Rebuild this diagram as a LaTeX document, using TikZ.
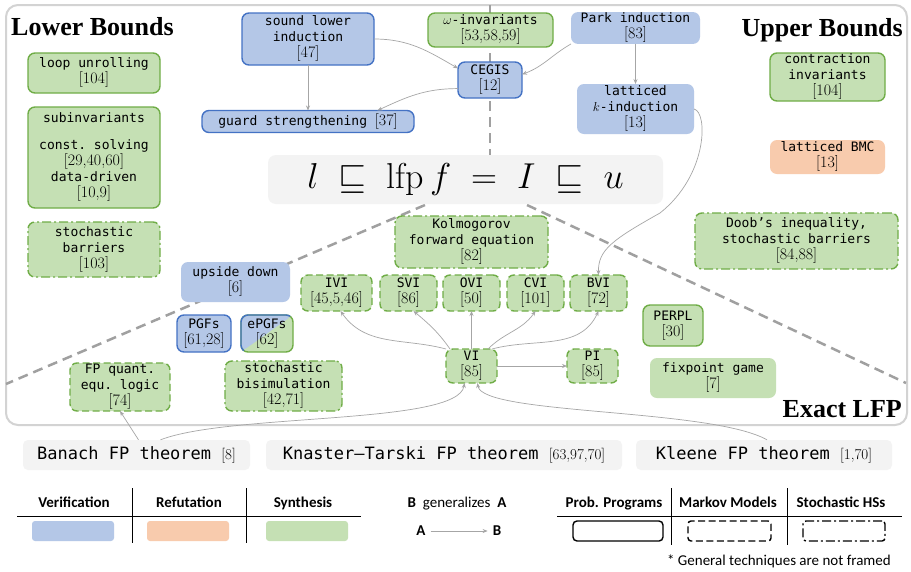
\documentclass[tikz,border=0pt]{standalone}
\usepackage{fix-cm}
\usepackage{fontspec}
\setmonofont{DejaVu Sans Mono}
\newfontfamily\titlefont{Liberation Serif}
\newfontfamily\legendfont{Carlito}
\usetikzlibrary{arrows.meta}

\definecolor{verfill}{HTML}{B4C7E7}
\definecolor{verline}{HTML}{4472C4}
\definecolor{synfill}{HTML}{C5E0B4}
\definecolor{synline}{HTML}{70AD47}
\definecolor{reffill}{HTML}{F8CBAD}
\definecolor{thmfill}{HTML}{F3F3F3}
\definecolor{linkgray}{HTML}{A6A6A6}
\definecolor{sepgray}{HTML}{A0A0A0}
\definecolor{framegray}{HTML}{D3D3D3}

\newcommand{\refs}[1]{{\rmfamily\fontsize{16}{16}\selectfont[#1]}}
\newcommand{\thmrefs}[1]{{\rmfamily\fontsize{15}{16}\selectfont[#1]}}

\begin{document}
\begin{tikzpicture}[
		x=1pt, y=1pt,
		box/.style={rounded corners=7pt, align=center, outer sep=0pt, inner sep=1pt, font=\ttfamily\fontsize{13}{16}\selectfont},
		boxsize/.style 2 args={minimum width=#1, minimum height=#2},
		verbox/.style={box, fill=verfill, draw=verline},
		synbox/.style={box, fill=synfill, draw=synline},
		refbox/.style={box, fill=reffill},
		prog/.style={line width=1.4pt},
		markov/.style={line width=1.4pt, dash pattern=on 7pt off 3.5pt},
		hybrid/.style={line width=1.4pt, dash pattern=on 9pt off 3pt on 2pt off 3pt},
		general/.style={draw=none},
		thm/.style={fill=thmfill, rounded corners=5pt, inner sep=0pt, font=\ttfamily\fontsize{17}{20}\selectfont},
		link/.style={draw=linkgray, line width=0.7pt, -{Stealth[length=5pt, width=4pt]}},
		region/.style={draw=sepgray, line width=2.5pt, dash pattern=on 10pt off 6pt},
		heading/.style={font=\titlefont\bfseries\fontsize{26}{30}\selectfont, inner sep=0pt},
		legend/.style={font=\legendfont\fontsize{15}{17}\selectfont, inner sep=0pt},
		swatch/.style={rounded corners=3pt, minimum width=82pt, minimum height=20pt, inner sep=0pt}
		]
		
		\fill[white] (0,0) rectangle (911,-571);
		\useasboundingbox (0,0) rectangle (911,-571);
		\draw[framegray, line width=2pt, rounded corners=12pt] (6,-5) rectangle (907,-425);
		
		\draw[region] (490,-5) -- (490,-155);
		\draw[region] (425,-205) -- (6,-384);
		\draw[region] (527,-205) -- (906,-383);
		
		\node[heading, anchor=base west] (lower) at (11,-35) {Lower Bounds};
		\node[heading, anchor=base east] (upper) at (903,-36) {Upper Bounds};
		\node[heading, anchor=base east] (exact) at (902,-417) {Exact LFP};
		
		\node[fill=thmfill, rounded corners=8pt, boxsize={395pt}{49pt}, font=\fontsize{36}{40}\selectfont] (lfp) at (465.5,-179.5) {$l \;\sqsubseteq\; \mathrm{lfp}\, f \;=\; I \;\sqsubseteq\; u$};
		
		\node[verbox, prog, boxsize={132pt}{52pt}] (sli) at (308,-39) {sound lower\\induction\\\refs{47}};
		\node[verbox, prog, boxsize={212pt}{22pt}] (guard) at (308,-121.5) {guard strengthening \refs{37}};
		\node[synbox, prog, boxsize={125pt}{34pt}] (omega) at (490.5,-30) {$\omega$-invariants\\\refs{53,58,59}};
		\node[verbox, general, boxsize={129pt}{30pt}] (park) at (635.5,-28) {Park induction\\\refs{83}};
		\node[verbox, prog, boxsize={64pt}{36pt}] (cegis) at (490,-80) {CEGIS\\\refs{12}};
		\node[verbox, general, boxsize={117pt}{50pt}] (lki) at (635.5,-109) {latticed\\$k$-induction\\\refs{13}};
		\node[synbox, prog, boxsize={115pt}{48pt}] (contr) at (827.5,-77) {contraction\\invariants\\\refs{104}};
		\node[refbox, boxsize={115pt}{34pt}] (bmc) at (827.5,-157) {latticed BMC\\\refs{13}};
		
		\node[synbox, prog, boxsize={132pt}{40pt}] (unroll) at (94,-73) {loop unrolling\\\refs{104}};
		\node[synbox, prog, boxsize={132pt}{101pt}] (subinv) at (94,-157.5) {subinvariants\\[11pt]const. solving\\\refs{29,40,60}\\data-driven\\\refs{10,9}};
		\node[synbox, hybrid, boxsize={132pt}{55pt}] (sbar) at (94,-249.5) {stochastic\\barriers\\\refs{103}};
		
		\node[verbox, general, boxsize={109pt}{40pt}] (upside) at (235.5,-282) {upside down\\\refs{6}};
		\node[synbox, hybrid, boxsize={153pt}{52pt}] (kolmo) at (471.5,-242) {Kolmogorov\\forward equation\\\refs{82}};
		\node[synbox, hybrid, boxsize={203pt}{56pt}] (doob) at (796.5,-241) {Doob’s inequality,\\stochastic barriers\\\refs{84,88}};
		
		\node[synbox, markov, boxsize={71pt}{36pt}] (ivi) at (336.5,-293) {IVI\\\refs{45,5,46}};
		\node[synbox, markov, boxsize={57pt}{36pt}] (svi) at (408.5,-293) {SVI\\\refs{86}};
		\node[synbox, markov, boxsize={57pt}{36pt}] (ovi) at (471.5,-293) {OVI\\\refs{50}};
		\node[synbox, markov, boxsize={57pt}{36pt}] (cvi) at (535.5,-293) {CVI\\\refs{101}};
		\node[synbox, markov, boxsize={57pt}{36pt}] (bvi) at (598.5,-293) {BVI\\\refs{72}};
		
		\node[verbox, prog, boxsize={54pt}{37pt}] (pgf) at (204,-333.5) {PGFs\\\refs{61,28}};
		\node[synbox, prog, boxsize={52pt}{37pt}, path picture={\fill[verfill] (path picture bounding box.north west) -- (path picture bounding box.north east) -- (path picture bounding box.south west) -- cycle;}] (epgf) at (267,-333.5) {ePGFs\\\refs{62}};
		\begin{scope}
			\clip ([shift={(-3pt,3pt)}]epgf.north west) -- ([shift={(3pt,3pt)}]epgf.north east) -- ([shift={(-3pt,-3pt)}]epgf.south west) -- cycle;
			\draw[verline, line width=1.4pt, rounded corners=7pt] (epgf.south west) rectangle (epgf.north east);
		\end{scope}
		
		\node[synbox, markov, boxsize={51pt}{34pt}] (vi) at (471.5,-366) {VI\\\refs{85}};
		\node[synbox, markov, boxsize={51pt}{34pt}] (pi) at (592.5,-366) {PI\\\refs{85}};
		\node[synbox, prog, boxsize={60pt}{41pt}] (perpl) at (673,-325.5) {PERPL\\\refs{30}};
		\node[synbox, general, boxsize={126pt}{40pt}] (game) at (713,-378) {fixpoint game\\\refs{7}};
		\node[synbox, markov, boxsize={100pt}{48pt}] (fpq) at (120,-387) {FP quant.\\equ. logic\\\refs{74}};
		\node[synbox, hybrid, boxsize={117pt}{50pt}] (bisim) at (283.5,-386) {stochastic\\bisimulation\\\refs{42,71}};
		
		\node[thm, boxsize={227pt}{30pt}] (banach) at (136.5,-455) {Banach FP theorem \thmrefs{8}};
		\node[thm, boxsize={356pt}{30pt}] (tarski) at (444,-455) {Knaster–Tarski FP theorem \thmrefs{63,97,70}};
		\node[thm, boxsize={256pt}{30pt}] (kleene) at (764,-455) {Kleene FP theorem \thmrefs{1,70}};
		
		\draw[link] (sli.east) to[out=0, in=150] (cegis.160);
		\draw[link] (sli) -- (guard);
		\draw[link] (cegis.195) to[out=180, in=25] (guard.9);
		\draw[link] (park.south west) to[out=-150, in=20] (cegis.10);
		\draw[link] (park) -- (lki);
		\draw[link] (lki.east) .. controls (708,-112) and (708,-175) .. (660,-213) .. controls (612,-240) and (598,-250) .. (bvi.north);
		\draw[link] (vi.north west) to[out=165, in=-55] ([xshift=4pt]ivi.south);
		\draw[link] ([xshift=4pt]vi.north west) to[out=125, in=-40] ([xshift=5pt]svi.south);
		\draw[link] (vi) -- (ovi);
		\draw[link] ([xshift=-9pt]vi.north east) to[out=45, in=-125] (cvi.south);
		\draw[link] ([xshift=-5pt]vi.north east) to[out=15, in=-115] (bvi.south);
		\draw[link] (vi) -- (pi);
		\draw[link] ([xshift=2pt]banach.north) -- (fpq.south);
		\draw[link] ([xshift=24pt]banach.north) .. controls (230,-413) and (458,-425) .. ([xshift=-7pt]vi.south);
		\draw[link] ([xshift=3pt]kleene.north) .. controls (710,-408) and (482,-415) .. ([xshift=6pt]vi.south);
		
		\node[legend, anchor=base] (hver) at (74,-507) {\bfseries Verification};
		\node[legend, anchor=base] (href) at (189,-507) {\bfseries Refutation};
		\node[legend, anchor=base] (hsyn) at (303,-507) {\bfseries Synthesis};
		\node[swatch, fill=verfill] (sver) at (73,-531) {};
		\node[swatch, fill=reffill] (sref) at (188,-531) {};
		\node[swatch, fill=synfill] (ssyn) at (307,-531) {};
		\draw[line width=0.8pt] (17,-516) -- (361,-516);
		\draw[line width=0.8pt] (132,-488) -- (132,-543);
		\draw[line width=0.8pt] (246,-488) -- (246,-543);
		
		\node[legend, anchor=base] (gen) at (457,-507) {\bfseries B\ \ \mdseries generalizes\ \ \bfseries A};
		\node[legend, font=\legendfont\bfseries\fontsize{15}{17}\selectfont, inner sep=5pt] (la) at (421,-531) {A};
		\node[legend, font=\legendfont\bfseries\fontsize{15}{17}\selectfont, inner sep=5pt] (lb) at (497,-531) {B};
		\draw[link] (la) -- (lb);
		
		\node[legend, anchor=base] (hprog) at (614,-507) {\bfseries Prob. Programs};
		\node[legend, anchor=base] (hmark) at (728,-507) {\bfseries Markov Models};
		\node[legend, anchor=base] (hhyb) at (841,-507) {\bfseries Stochastic HSs};
		\node[swatch, draw=black, prog, rounded corners=4pt, minimum width=90pt] (sprog) at (618,-531) {};
		\node[swatch, draw=black, markov, minimum width=83pt] (smark) at (729.5,-531) {};
		\node[swatch, draw=black, hybrid, minimum width=82pt] (shyb) at (844,-531) {};
		\draw[line width=0.8pt] (557,-516) -- (902,-516);
		\draw[line width=0.8pt] (671,-488) -- (671,-545);
		\draw[line width=0.8pt] (787,-488) -- (787,-545);
		\node[legend, anchor=base east] (note) at (891,-565) {* General techniques are not framed};
		
	\end{tikzpicture}
\end{document}
